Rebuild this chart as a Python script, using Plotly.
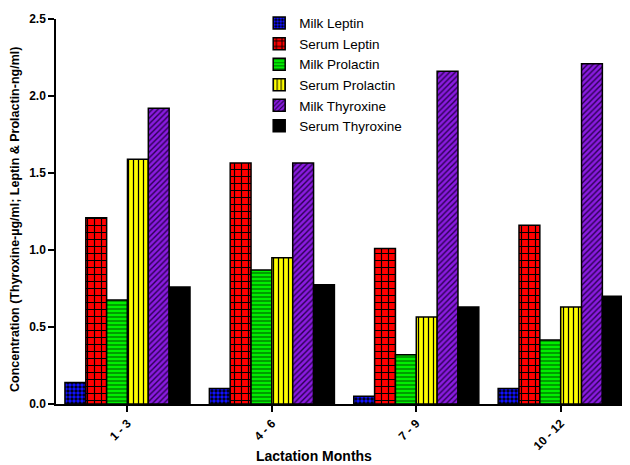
import plotly.graph_objects as go

categories = ["1 - 3", "4 - 6", "7 - 9", "10 - 12"]
series_names = ["Milk Leptin", "Serum Leptin", "Milk Prolactin",
                "Serum Prolactin", "Milk Thyroxine", "Serum Thyroxine"]
milk_leptin = [0.14, 0.10, 0.05, 0.10]
serum_leptin = [1.21, 1.565, 1.01, 1.16]
milk_prolactin = [0.675, 0.87, 0.32, 0.415]
serum_prolactin = [1.59, 0.95, 0.565, 0.63]
milk_thyroxine = [1.92, 1.565, 2.16, 2.21]
serum_thyroxine = [0.76, 0.775, 0.63, 0.70]
y_ticks = [0.0, 0.5, 1.0, 1.5, 2.0, 2.5]
x_title = "Lactation Months"
y_title = "Concentration (Thyroxine-µg/ml; Leptin & Prolactin-ng/ml)"

values = [milk_leptin, serum_leptin, milk_prolactin,
          serum_prolactin, milk_thyroxine, serum_thyroxine]
patterns = [
    dict(shape=".", bgcolor="#000000", fgcolor="#1010FF", size=4, solidity=0.6),
    dict(shape="+", bgcolor="#FF0000", fgcolor="#000000", size=7, solidity=0.3),
    dict(shape="-", bgcolor="#00EE00", fgcolor="#006600", size=4, solidity=0.3),
    dict(shape="|", bgcolor="#FFFF00", fgcolor="#000000", size=5, solidity=0.25),
    dict(shape="/", bgcolor="#8A1BE0", fgcolor="#2A0050", size=4, solidity=0.35),
    dict(shape="", bgcolor="#000000", fgcolor="#000000", size=4, solidity=0.3),
]
base_colors = ["#1010FF", "#FF0000", "#00EE00", "#FFFF00", "#8A1BE0", "#000000"]

fig = go.Figure()
for name, vals, pat, col in zip(series_names, values, patterns, base_colors):
    fig.add_trace(go.Bar(
        x=categories, y=vals, name=name,
        marker=dict(color=col, line=dict(color="#000000", width=1.5),
                    pattern=dict(fillmode="replace", **pat) if pat["shape"] else None),
    ))

font_family = "Arial, Liberation Sans, sans-serif"
fig.update_layout(
    width=622, height=457,
    margin=dict(l=48, r=0, t=11, b=61, autoexpand=False),
    plot_bgcolor="white", paper_bgcolor="white",
    barmode="group", bargap=0.134, bargroupgap=0,
    font=dict(family=font_family, color="#000000"),
    legend=dict(x=0.354, y=1.029, xanchor="left", yanchor="top",
                font=dict(size=13.5, family=font_family), tracegroupgap=0,
                bgcolor="rgba(0,0,0,0)", itemwidth=30),
    xaxis=dict(
        range=[-0.495, 3.48], showline=True, linecolor="#000000", linewidth=1.5,
        ticks="outside", ticklen=6, tickcolor="#000000", tickwidth=1.5, tickangle=-45,
        tickfont=dict(size=12, family=font_family, weight="bold"),
        showgrid=False, zeroline=False, automargin=False,
    ),
    yaxis=dict(
        range=[0, 2.5], tickvals=y_ticks, tickformat=".1f",
        showline=True, linecolor="#000000", linewidth=1.5,
        ticks="outside", ticklen=6, tickcolor="#000000", tickwidth=1.5,
        tickfont=dict(size=12, family=font_family, weight="bold"),
        showgrid=False, zeroline=False, automargin=False,
    ),
    annotations=[
        dict(text="<b>" + x_title + "</b>", xref="paper", yref="paper",
             x=0.45, y=-0.135, xanchor="center", yanchor="middle",
             showarrow=False, font=dict(size=14, family=font_family)),
        dict(text="<b>" + y_title + "</b>", xref="paper", yref="paper",
             x=-0.0714, y=0.478, xanchor="center", yanchor="middle", textangle=-90,
             showarrow=False, font=dict(size=12.5, family=font_family)),
    ],
)
fig.write_html("out.html")
